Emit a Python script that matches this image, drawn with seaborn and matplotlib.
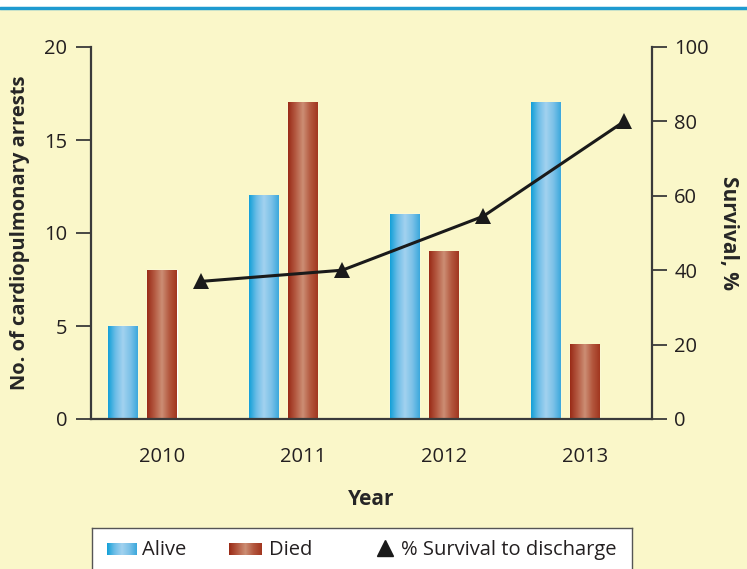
import numpy as np
import pandas as pd
import seaborn as sns
import matplotlib.pyplot as plt
from matplotlib.colors import LinearSegmentedColormap
from matplotlib.patches import Rectangle
from matplotlib.lines import Line2D

# Data
years = ['2010', '2011', '2012', '2013']
alive = [5, 12, 11, 17]
died = [8, 17, 9, 4]
survival_pct = [37, 40, 54.5, 80]

BG = '#FAF7C9'
BLUE = '#2FA6DC'
RED = '#A7402A'
blue_cmap = LinearSegmentedColormap.from_list(
    'alive', ['#12A0D8', '#6DBDE7', '#A2D2EF', '#7BC1E8', '#3BA8DC'])
red_cmap = LinearSegmentedColormap.from_list(
    'died', ['#992A16', '#B45A42', '#CC8E74', '#B3573E', '#A1361F'])
grad = np.linspace(0, 1, 256).reshape(1, -1)

sns.set_style('white')
plt.rcParams['font.family'] = ['Open Sans', 'DejaVu Sans']

df = pd.DataFrame({
    'Year': years * 2,
    'Count': alive + died,
    'Status': ['Alive'] * len(years) + ['Died'] * len(years),
})

fig = plt.figure(figsize=(7.47, 5.69), dpi=100, facecolor=BG)
ax = fig.add_axes([91 / 747, 1 - 419 / 569, 561 / 747, 372 / 569])
ax.set_facecolor('none')

sns.barplot(data=df, x='Year', y='Count', hue='Status', palette=[BLUE, RED],
            width=0.56, gap=0.26, legend=False, ax=ax, saturation=1)

# cylinder-like gradient on each bar
for patch in list(ax.patches):
    x0, w, h = patch.get_x(), patch.get_width(), patch.get_height()
    if h <= 0:
        continue
    fc = patch.get_facecolor()
    cmap = blue_cmap if fc[2] > fc[0] else red_cmap
    ax.imshow(grad, cmap=cmap, extent=[x0, x0 + w, 0, h], aspect='auto',
              zorder=patch.get_zorder() + 0.1, interpolation='bilinear')

pos = np.arange(len(years))
xlim = (-0.363, 3.617)
ax.set_xlim(*xlim)
ax.set_ylim(0, 20)
ax.set_xticks(pos + 0.14)
ax.set_xticklabels(years)
ax.set_yticks([0, 5, 10, 15, 20])
ax.set_xlabel('Year', fontsize=15, fontweight='bold', labelpad=16)
ax.set_ylabel('No. of cardiopulmonary arrests', fontsize=14.5,
              fontweight='bold', labelpad=10)
for s in ['top', 'right']:
    ax.spines[s].set_visible(False)
for s in ['left', 'bottom']:
    ax.spines[s].set_color('#3A3A3A')
    ax.spines[s].set_linewidth(1.6)
ax.tick_params(axis='both', direction='out', length=11, width=1.3,
               color='#3A3A3A', labelsize=14.5, labelcolor='#231F20', pad=6)
ax.tick_params(axis='x', length=10, pad=10)

ax2 = ax.twinx()
ax2.set_facecolor('none')
line_df = pd.DataFrame({'x': pos + 0.42, 'Survival': survival_pct})
sns.lineplot(data=line_df, x='x', y='Survival', ax=ax2, color='#1A1A1A',
             linewidth=2.2, marker='^', markersize=12, markeredgewidth=0)
ax2.set_ylim(0, 100)
ax2.set_xlim(*xlim)
ax2.set_yticks([0, 20, 40, 60, 80, 100])
ax2.set_xlabel('')
ax2.set_ylabel('Survival, %', fontsize=15, fontweight='bold',
               rotation=270, labelpad=22)
for s in ['top', 'left', 'bottom']:
    ax2.spines[s].set_visible(False)
ax2.spines['right'].set_color('#3A3A3A')
ax2.spines['right'].set_linewidth(1.6)
ax2.tick_params(axis='y', direction='out', length=11, width=1.3,
                color='#3A3A3A', labelsize=14.5, labelcolor='#231F20', pad=5)

# top white band with blue rule
fig.patches.append(Rectangle((0, 1 - 7 / 569), 1, 7 / 569,
                             transform=fig.transFigure, color='white', zorder=0))
fig.lines.append(Line2D([0, 1], [1 - 8 / 569, 1 - 8 / 569], transform=fig.transFigure,
                        color='#1E9AD0', linewidth=2.5))

# legend box
lax = fig.add_axes([92 / 747, -10 / 569, 540 / 747, 51 / 569])
lax.set_facecolor('white')
for s in lax.spines.values():
    s.set_color('#555555')
    s.set_linewidth(1.0)
lax.set_xticks([])
lax.set_yticks([])
lax.imshow(grad, cmap=blue_cmap, extent=[15, 45, 24, 36], aspect='auto')
lax.imshow(grad, cmap=red_cmap, extent=[137, 170, 24, 36], aspect='auto')
lax.plot([293], [31], marker='^', markersize=12, color='#1A1A1A', linestyle='none')
lax.text(50, 29, 'Alive', fontsize=14.5, va='center', ha='left', color='#231F20')
lax.text(177, 29, 'Died', fontsize=14.5, va='center', ha='left', color='#231F20')
lax.text(309, 29, '% Survival to discharge', fontsize=14.5, va='center',
         ha='left', color='#231F20')
lax.set_xlim(0, 540)
lax.set_ylim(0, 51)

fig.savefig('out.png', dpi=100, facecolor=BG)
